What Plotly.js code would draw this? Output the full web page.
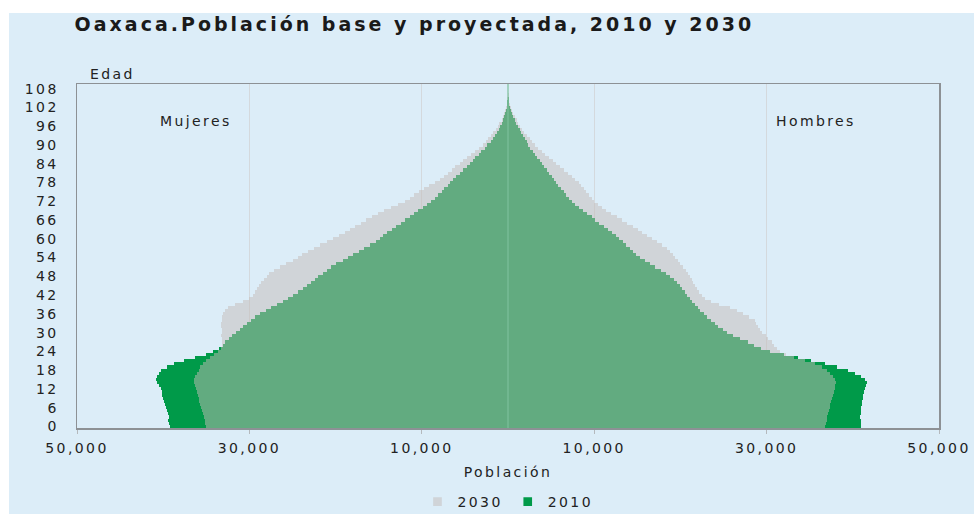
<!DOCTYPE html>
<html><head><meta charset="utf-8">
<script src="https://cdn.plot.ly/plotly-3.0.1.min.js"></script>
<style>
html,body{margin:0;padding:0;background:#ffffff;}
#chart{position:absolute;left:9px;top:13px;width:965px;height:501px;}
svg text{letter-spacing:2.4px;}
svg text.gtitle{letter-spacing:3px;}
g.legendpoints path{transform:translate(20px,0px) scale(0.72);}
</style></head><body><div id="chart"></div>
<script>
// Ages (single years)
const ages=[0,1,2,3,4,5,6,7,8,9,10,11,12,13,14,15,16,17,18,19,20,21,22,23,24,25,26,27,28,29,30,31,32,33,34,35,36,37,38,39,40,41,42,43,44,45,46,47,48,49,50,51,52,53,54,55,56,57,58,59,60,61,62,63,64,65,66,67,68,69,70,71,72,73,74,75,76,77,78,79,80,81,82,83,84,85,86,87,88,89,90,91,92,93,94,95,96,97,98,99,100,101,102,103,104,105,106,107,108,109];

// Population in thousands
const mujeres2010=[39.2,39.3,39.4,39.3,39.5,39.6,39.7,39.8,39.9,40.0,40.1,40.1,40.3,40.5,40.7,40.8,40.7,40.5,40.2,39.6,38.8,37.6,36.3,35.0,34.2,33.5,33.1,32.8,32.4,32.0,31.6,31.1,30.7,30.3,29.8,29.4,28.8,28.1,27.5,26.8,26.1,25.5,25.0,24.4,23.8,23.3,22.8,22.4,22.0,21.5,21.0,20.5,19.9,19.2,18.6,18.0,17.3,16.7,16.0,15.3,14.9,14.5,14.0,13.5,13.0,12.4,11.9,11.4,10.9,10.4,9.9,9.4,8.9,8.5,8.1,7.7,7.4,7.0,6.7,6.4,6.0,5.6,5.2,4.8,4.4,4.1,3.8,3.4,3.1,2.7,2.4,2.0,1.75,1.5,1.25,1.05,0.88,0.7,0.55,0.42,0.3,0.2,0.14,0.1,0.07,0.05,0.04,0.03,0.02,0.02];
const hombres2010=[41.0,40.9,40.9,40.8,40.9,41.0,41.0,41.1,41.1,41.2,41.2,41.3,41.4,41.5,41.6,41.4,40.9,40.2,39.4,38.2,36.8,35.2,33.7,32.0,30.4,29.3,28.5,27.8,26.9,26.1,25.4,24.9,24.4,24.0,23.6,23.1,22.7,22.3,22.0,21.7,21.4,21.1,20.8,20.5,20.2,19.9,19.6,19.3,18.8,18.3,17.7,17.1,16.5,15.9,15.3,14.9,14.5,14.1,13.7,13.3,12.9,12.5,12.1,11.6,11.1,10.6,10.1,9.7,9.2,8.7,8.2,7.8,7.4,7.05,6.75,6.45,6.15,5.85,5.55,5.3,5.05,4.8,4.5,4.2,3.95,3.7,3.4,3.1,2.85,2.6,2.35,2.15,1.95,1.75,1.55,1.35,1.15,0.97,0.8,0.62,0.45,0.32,0.22,0.15,0.1,0.07,0.05,0.03,0.02,0.02];
const mujeres2030=[35.0,35.1,35.2,35.3,35.4,35.5,35.6,35.7,35.8,35.9,36.0,36.1,36.2,36.3,36.4,36.4,36.3,36.1,35.9,35.7,35.4,35.0,34.6,34.1,33.6,33.3,33.2,33.2,33.2,33.3,33.2,33.2,33.3,33.3,33.2,33.2,33.1,32.8,32.5,31.7,30.8,30.0,29.6,29.3,29.1,28.9,28.6,28.3,28.0,27.7,27.1,26.4,25.7,25.0,24.4,23.9,23.2,22.5,21.8,21.0,20.3,19.6,18.9,18.3,17.7,17.1,16.5,15.8,15.1,14.4,13.6,12.8,12.0,11.4,10.9,10.3,9.7,9.2,8.5,7.9,7.4,7.0,6.5,6.1,5.6,5.2,4.7,4.3,3.8,3.4,2.9,2.6,2.3,2.0,1.7,1.45,1.2,1.0,0.75,0.58,0.44,0.32,0.22,0.15,0.1,0.07,0.05,0.03,0.02,0.02];
const hombres2030=[36.8,36.9,37.0,37.0,37.1,37.2,37.3,37.4,37.5,37.6,37.7,37.8,37.9,37.9,38.0,37.9,37.7,37.4,37.0,36.4,35.6,34.5,33.2,32.3,31.6,31.2,30.9,30.6,30.2,29.9,29.5,29.2,29.0,28.8,28.6,28.0,27.3,26.6,25.7,24.5,23.5,22.8,22.5,22.2,21.9,21.7,21.5,21.3,21.1,20.9,20.6,20.3,20.0,19.7,19.4,19.1,18.8,18.5,17.9,17.3,16.7,16.1,15.6,15.1,14.5,13.8,13.2,12.6,12.0,11.4,10.9,10.4,10.0,9.7,9.4,9.1,8.8,8.5,8.2,7.8,7.4,7.0,6.5,6.0,5.6,5.2,4.7,4.3,3.9,3.5,3.1,2.8,2.5,2.2,1.9,1.65,1.4,1.2,1.0,0.8,0.6,0.45,0.33,0.23,0.16,0.11,0.08,0.05,0.03,0.02];

const yTickVals=[0,6,12,18,24,30,36,42,48,54,60,66,72,78,84,90,96,102,108];
const xTickVals=[-50,-30,-10,10,30,50];
const xTickText=['50,000','30,000','10,000','10,000','30,000','50,000'];

const green='#009a49';
const grey='rgba(196,187,184,0.5)';

const neg=a=>a.map(v=>-v);
const base={type:'bar',orientation:'h',y:ages,hoverinfo:'skip'};
const traces=[
  Object.assign({},base,{name:'2010',legendgroup:'2010',x:neg(mujeres2010),marker:{color:green,line:{width:0}},showlegend:true}),
  Object.assign({},base,{name:'2010',legendgroup:'2010',x:hombres2010,marker:{color:green,line:{width:0}},showlegend:false}),
  Object.assign({},base,{name:'2030',legendgroup:'2030',x:neg(mujeres2030),marker:{color:grey,line:{width:0}},showlegend:true}),
  Object.assign({},base,{name:'2030',legendgroup:'2030',x:hombres2030,marker:{color:grey,line:{width:0}},showlegend:false})
];

const layout={
  width:965,height:501,
  paper_bgcolor:'#dcedf8',plot_bgcolor:'#dcedf8',
  margin:{l:68,r:35,t:71,b:86,pad:0},
  barmode:'overlay',bargap:0,
  font:{family:'DejaVu Sans',size:14,color:'#222'},
  title:{text:'Oaxaca.Población base y proyectada, 2010 y 2030',
    font:{family:'DejaVu Sans',size:19,color:'#1a1a1a',weight:'bold'},
    xref:'container',x:0.068,xanchor:'left',yref:'container',y:0.977,yanchor:'middle'},
  xaxis:{range:[-50,50],tickvals:xTickVals,ticktext:xTickText,showgrid:true,gridcolor:'#d4d9dd',gridwidth:1,
    zeroline:false,showline:true,mirror:true,linecolor:'#8d9195',linewidth:1.5,
    ticks:'outside',ticklen:4,tickcolor:'#b5b9bd',ticklabelstandoff:3,automargin:false,
    title:{text:'Población',standoff:12,font:{size:14}},fixedrange:true},
  yaxis:{range:[-0.5,109.5],tickvals:yTickVals,showgrid:false,zeroline:false,showline:true,mirror:true,
    linecolor:'#8d9195',linewidth:1.5,ticks:'',ticklabelstandoff:14,automargin:false,fixedrange:true},
  legend:{orientation:'h',x:0.5,xanchor:'center',xref:'paper',yref:'container',y:0.024,yanchor:'middle',traceorder:'reversed',
    bgcolor:'rgba(0,0,0,0)',font:{size:14}},
  annotations:[
    {text:'Edad',xref:'paper',yref:'paper',x:0,y:1,xanchor:'left',yanchor:'bottom',xshift:11,yshift:0,showarrow:false,font:{size:14}},
    {text:'Mujeres',xref:'paper',yref:'paper',x:0.138,y:0.892,xanchor:'center',yanchor:'middle',showarrow:false,font:{size:14}},
    {text:'Hombres',xref:'paper',yref:'paper',x:0.857,y:0.892,xanchor:'center',yanchor:'middle',showarrow:false,font:{size:14}}
  ],
  shapes:[{type:'line',xref:'x',yref:'paper',x0:0,x1:0,y0:0,y1:1,line:{color:'#7cc09b',width:1.2},layer:'above'}]
};
Plotly.newPlot('chart',traces,layout,{displayModeBar:false,staticPlot:true});
</script></body></html>
